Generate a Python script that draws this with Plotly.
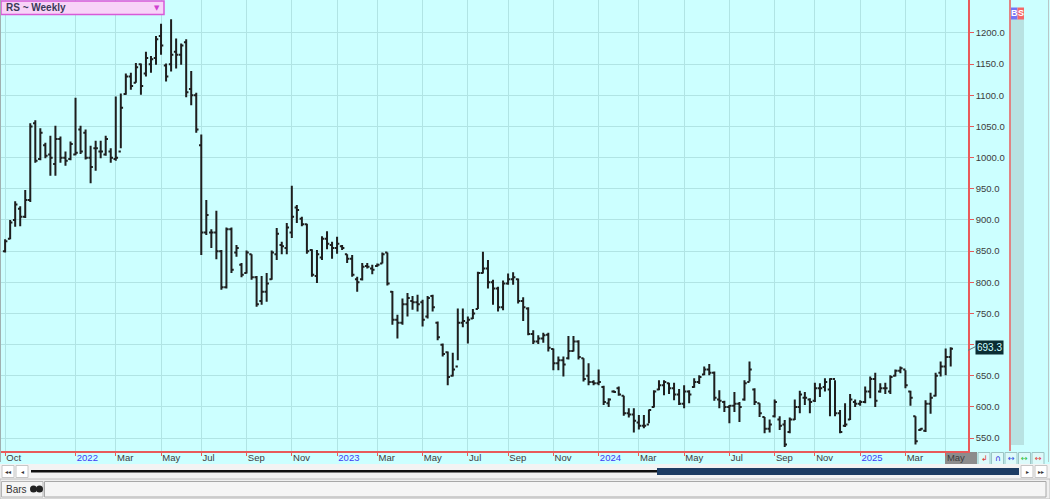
import plotly.graph_objects as go
import pandas as pd

# ---------------- data (weekly bars) ----------------
start_date = "2021-10-01"   # first weekly bar (week ending Friday)

highs = [869, 900, 930, 922, 948, 1055, 1060, 1047,
         1024, 1035, 1051, 1034, 1010, 1026, 1096, 1051, 1045, 1019,
         1027, 1027, 1035, 1015, 1098, 1103, 1135, 1136, 1152, 1151,
         1170, 1163, 1195, 1215, 1151, 1222, 1191, 1183, 1190, 1139,
         1104, 1037, 932, 885, 915, 852, 888, 888, 860, 831,
         851, 845, 810, 810, 815, 851, 887, 865, 895, 955,
         924, 905, 894, 853, 852, 874, 882, 865, 873, 860,
         845, 844, 809, 831, 831, 828, 830, 848, 848, 786,
         748, 774, 783, 778, 780, 772, 778, 780, 737, 702,
         689, 687, 758, 758, 745, 757, 817, 849, 836, 804,
         793, 803, 814, 816, 806, 776, 760, 723, 715, 719,
         719, 694, 681, 681, 714, 714, 707, 678, 670, 643,
         660, 634, 614, 627, 633, 618, 598, 598, 587, 587,
         596, 627, 643, 643, 639, 639, 629, 635, 627, 646,
         651, 665, 669, 657, 627, 610, 603, 624, 608, 643,
         673, 630, 606, 584, 580, 612, 585, 579, 583, 612,
         626, 624, 614, 639, 638, 646, 646, 643, 595, 606,
         621, 612, 611, 633, 649, 655, 638, 639, 651, 660,
         665, 659, 626, 585, 566, 611, 623, 655, 673, 694,
         696]

lows = [848, 869, 889, 890, 903, 929, 992, 996,
        999, 971, 971, 992, 987, 996, 1004, 1006, 997, 959,
        979, 999, 1003, 992, 995, 1015, 1101, 1109, 1120, 1101,
        1130, 1136, 1149, 1165, 1122, 1138, 1143, 1149, 1097, 1084,
        1040, 844, 876, 855, 837, 788, 790, 815, 841, 808,
        814, 804, 761, 764, 769, 804, 836, 845, 845, 871,
        895, 890, 846, 809, 799, 836, 853, 838, 846, 852,
        831, 809, 785, 803, 822, 813, 825, 830, 795, 732,
        710, 732, 745, 756, 753, 729, 742, 753, 707, 681,
        635, 649, 675, 728, 702, 741, 757, 814, 790, 764,
        753, 755, 796, 796, 766, 738, 715, 701, 701, 703,
        689, 659, 659, 649, 676, 689, 676, 641, 635, 635,
        635, 603, 600, 623, 618, 586, 583, 559, 564, 566,
        574, 599, 627, 619, 621, 611, 603, 598, 606, 631,
        637, 651, 651, 610, 598, 592, 574, 592, 576, 610,
        641, 603, 584, 558, 559, 583, 563, 536, 558, 579,
        590, 603, 590, 608, 616, 625, 585, 585, 558, 568,
        579, 600, 602, 606, 614, 600, 623, 621, 621, 649,
        654, 630, 602, 540, 562, 560, 589, 617, 649, 651,
        665]

opens = [850, 870, 900, 918, 905, 932, 1055, 998,
         1020, 1005, 990, 1030, 1000, 998, 1005, 1045, 1040, 1000,
         1015, 1010, 1005, 1010, 998, 1010, 1102, 1130, 1120, 1150,
         1135, 1150, 1160, 1195, 1148, 1150, 1170, 1165, 1185, 1110,
         1100, 1020, 880, 880, 880, 850, 792, 885, 848, 828,
         815, 845, 808, 770, 785, 805, 845, 860, 855, 880,
         920, 902, 893, 852, 810, 840, 870, 860, 855, 858,
         845, 838, 805, 805, 826, 822, 826, 830, 848, 785,
         740, 735, 765, 770, 768, 768, 745, 778, 735, 700,
         688, 650, 665, 735, 735, 742, 757, 815, 822, 800,
         790, 760, 798, 805, 805, 770, 758, 717, 705, 710,
         716, 693, 670, 675, 678, 690, 705, 678, 650, 640,
         638, 632, 606, 625, 630, 618, 590, 588, 575, 570,
         572, 600, 628, 635, 638, 630, 620, 605, 625, 632,
         640, 652, 660, 655, 612, 608, 600, 602, 605, 612,
         640, 628, 606, 584, 565, 585, 580, 572, 560, 580,
         600, 615, 612, 610, 630, 632, 628, 645, 590, 570,
         580, 608, 605, 608, 625, 645, 625, 630, 625, 650,
         658, 660, 625, 585, 563, 562, 605, 618, 655, 665,
         680]

closes = [866, 896, 925, 905, 932, 1050, 995, 1040,
          1003, 1000, 1030, 1000, 995, 1022, 1008, 1010, 1000, 985,
          1015, 1010, 1030, 1000, 1000, 1080, 1130, 1115, 1145, 1115,
          1160, 1158, 1190, 1180, 1130, 1165, 1165, 1180, 1105, 1100,
          1045, 880, 908, 880, 850, 792, 885, 820, 855, 812,
          848, 808, 765, 785, 798, 848, 878, 858, 888, 905,
          916, 893, 850, 812, 845, 870, 862, 855, 862, 855,
          838, 812, 800, 825, 825, 820, 828, 845, 798, 740,
          735, 765, 775, 768, 765, 740, 775, 760, 712, 685,
          648, 660, 735, 738, 740, 750, 815, 822, 800, 790,
          760, 798, 805, 808, 770, 760, 717, 705, 710, 715,
          695, 670, 675, 668, 690, 705, 680, 645, 640, 638,
          640, 608, 612, 624, 620, 590, 588, 578, 570, 570,
          595, 625, 635, 640, 630, 620, 605, 625, 620, 640,
          648, 660, 655, 615, 610, 600, 602, 605, 600, 638,
          660, 608, 590, 565, 572, 608, 570, 540, 580, 600,
          620, 615, 608, 630, 630, 640, 645, 590, 560, 572,
          612, 605, 608, 625, 645, 610, 630, 630, 648, 658,
          662, 635, 615, 545, 565, 605, 615, 650, 665, 680,
          693.3]

# first weekly bar of each labelled month
month_ticks = ["2021-10-01", "2022-01-07", "2022-03-04", "2022-05-06", "2022-07-01",
               "2022-09-02", "2022-11-04", "2023-01-06", "2023-03-03", "2023-05-05",
               "2023-07-07", "2023-09-01", "2023-11-03", "2024-01-05", "2024-03-01",
               "2024-05-03", "2024-07-05", "2024-09-06", "2024-11-01", "2025-01-03",
               "2025-03-07", "2025-05-02"]
month_labels = ["Oct", "2022", "Mar", "May", "Jul", "Sep", "Nov", "2023", "Mar", "May",
                "Jul", "Sep", "Nov", "2024", "Mar", "May", "Jul", "Sep", "Nov", "2025",
                "Mar", "May"]
price_ticks = [550, 600, 650, 700, 750, 800, 850, 900, 950, 1000, 1050, 1100, 1150, 1200]
last_price = 693.3

dates = pd.date_range(start_date, periods=len(highs), freq="7D")

# ---------------- styling helpers ----------------
W, H = 1050, 499
PW, PH = 968, 451          # plot area size in px (margins l=0, t=0)
BG = "#CCFFFF"
GRID = "#B0E4E4"
RED = "#E85A5A"
FONT = "Liberation Sans"


def X(px):
    return px / PW


def Y(py):
    return (PH - py) / PH


def note(px, py, text, size, color, family=FONT, xanchor="center", **kw):
    d = dict(xref="paper", yref="paper", x=X(px), y=Y(py), xanchor=xanchor,
             yanchor="middle", showarrow=False, text=text, borderpad=0,
             font=dict(family=family, size=size, color=color))
    d.update(kw)
    return d


tick_text = [
    f'<span style="color:#3C3CF5">{t}</span>' if t.isdigit() else t
    for t in month_labels
]
# the last-price flag covers the 700.0 label in the reference
price_text = ["" if v == 700 else f"{v:.1f}" for v in price_ticks]

fig = go.Figure()
fig.add_trace(go.Ohlc(
    x=dates, open=opens, high=highs, low=lows, close=closes,
    increasing=dict(line=dict(color="#1E1E1E", width=2)),
    decreasing=dict(line=dict(color="#1E1E1E", width=2)),
    tickwidth=0.45, showlegend=False, hoverinfo="skip",
))

shapes = []
annots = []

# title box
shapes.append(dict(type="rect", xref="paper", yref="paper", x0=X(1), x1=X(164),
                   y0=Y(14.5), y1=Y(1), fillcolor="#F8D3F8",
                   line=dict(color="#D85AD8", width=1.5), layer="above"))
annots.append(note(5, 7.8, "<b>RS ~ Weekly</b>", 10, "#3A3A58", xanchor="left"))
annots.append(note(157, 8, "▼", 7, "#D040D0", family="DejaVu Sans"))

# right side panel
shapes.append(dict(type="line", xref="paper", yref="paper", x0=X(1010), x1=X(1010),
                   y0=Y(451), y1=Y(0), line=dict(color=RED, width=1.5)))
shapes.append(dict(type="rect", xref="paper", yref="paper", x0=X(1011), x1=X(1024),
                   y0=Y(445), y1=Y(19), fillcolor="#B8E2E2", line=dict(width=0)))
shapes.append(dict(type="rect", xref="paper", yref="paper", x0=X(1011), x1=X(1017.5),
                   y0=Y(19.5), y1=Y(7.5), fillcolor="#7474F4", line=dict(width=0)))
shapes.append(dict(type="rect", xref="paper", yref="paper", x0=X(1017.5), x1=X(1024),
                   y0=Y(19.5), y1=Y(7.5), fillcolor="#F46868", line=dict(width=0)))
annots.append(note(1014.3, 13.5, "<b>B</b>", 9, "white"))
annots.append(note(1020.8, 13.5, "<b>S</b>", 9, "white"))
shapes.append(dict(type="line", xref="paper", yref="paper", x0=X(1048.5), x1=X(1048.5),
                   y0=Y(462), y1=Y(0), line=dict(color="#B8C8C8", width=1)))
shapes.append(dict(type="line", xref="paper", yref="paper", x0=X(0.5), x1=X(0.5),
                   y0=Y(462), y1=Y(0), line=dict(color="#A0B0B0", width=1)))

# last price marker
shapes.append(dict(type="line", xref="paper", yref="y", x0=X(968), x1=X(975.5),
                   y0=last_price - 2.5, y1=last_price + 3.5,
                   line=dict(color="#6A7A7A", width=1)))
annots.append(dict(xref="paper", yref="y", x=X(975), y=last_price + 2.5,
                   xanchor="left", yanchor="middle", showarrow=False,
                   text=f"{last_price:.1f}", bgcolor="#0B2D33", borderpad=1,
                   font=dict(family=FONT, size=10, color="#CFFFFF")))

# gray date box under "May"
shapes.append(dict(type="rect", xref="paper", yref="paper", x0=X(945), x1=X(977),
                   y0=Y(466), y1=Y(452), fillcolor="#8C8C8C", line=dict(width=0),
                   layer="below"))

# small buttons on the axis row
btn_x = [978, 991.5, 1005, 1018.5, 1032]
btn_glyph = ["↲", "∩", "↔", "↔", "↔"]
btn_col = ["#E03030", "#2A2AE0", "#3050E0", "#30C040", "#E04040"]
for bx, g, c in zip(btn_x, btn_glyph, btn_col):
    shapes.append(dict(type="rect", xref="paper", yref="paper", x0=X(bx), x1=X(bx + 12),
                       y0=Y(464.5), y1=Y(452.5), fillcolor="#DDFAFA",
                       line=dict(color="#9CC4C4", width=1)))
    annots.append(note(bx + 6, 458.5, g, 8, c, family="DejaVu Sans"))

# scroll row
shapes.append(dict(type="rect", xref="paper", yref="paper", x0=X(0), x1=X(1050),
                   y0=Y(479), y1=Y(464), fillcolor="#F3F3F3", line=dict(width=0)))
for bx in [2, 16, 1021, 1035]:
    shapes.append(dict(type="rect", xref="paper", yref="paper", x0=X(bx), x1=X(bx + 12),
                       y0=Y(477.5), y1=Y(465.5), fillcolor="#FFFFFF",
                       line=dict(color="#C6C6C6", width=1)))
for bx, g in zip([8, 22, 1027, 1041], ["◂◂", "◂", "▸", "▸▸"]):
    annots.append(note(bx, 471.5, g, 6, "#333333", family="DejaVu Sans"))
shapes.append(dict(type="line", xref="paper", yref="paper", x0=X(31), x1=X(657),
                   y0=Y(471.3), y1=Y(471.3), line=dict(color="#111111", width=2.5)))
shapes.append(dict(type="rect", xref="paper", yref="paper", x0=X(657), x1=X(1019),
                   y0=Y(475), y1=Y(468), fillcolor="#1D3C63", line=dict(width=0)))

# bottom status row
shapes.append(dict(type="rect", xref="paper", yref="paper", x0=X(0), x1=X(1050),
                   y0=Y(499), y1=Y(479), fillcolor="#EFEFEF",
                   line=dict(color="#BEBEBE", width=1)))
shapes.append(dict(type="rect", xref="paper", yref="paper", x0=X(1.5), x1=X(43),
                   y0=Y(497), y1=Y(481.5), fillcolor="#F5F5F5",
                   line=dict(color="#B4B4B4", width=1)))
shapes.append(dict(type="rect", xref="paper", yref="paper", x0=X(44.5), x1=X(1046),
                   y0=Y(497), y1=Y(481.5), fillcolor="#F5F5F5",
                   line=dict(color="#A8A8A8", width=1)))
for cx in [33.5, 39.5]:
    shapes.append(dict(type="circle", xref="paper", yref="paper", x0=X(cx - 3.5),
                       x1=X(cx + 3.5), y0=Y(492.5), y1=Y(485.5), fillcolor="#222222",
                       line=dict(width=0)))
annots.append(note(5, 489.5, "Bars", 10, "#333333", xanchor="left"))

fig.update_layout(
    width=W, height=H,
    margin=dict(l=0, r=W - PW, t=0, b=H - PH, pad=0),
    paper_bgcolor=BG, plot_bgcolor=BG,
    shapes=shapes, annotations=annots,
    showlegend=False,
    font=dict(family=FONT, size=10, color="#3C3C3C"),
    xaxis=dict(
        type="date",
        range=["2021-09-23 21:00", "2025-06-02 02:00"],
        rangeslider=dict(visible=False),
        tickvals=month_ticks, ticktext=tick_text,
        ticklabelposition="outside right",
        ticklabelstandoff=-3,
        ticks="outside", ticklen=3, tickcolor=RED, tickwidth=1,
        showline=True, linecolor=RED, linewidth=1.5,
        showgrid=True, gridcolor=GRID, gridwidth=1,
        zeroline=False,
        tickfont=dict(family=FONT, size=9.5, color="#3C3C3C"),
        fixedrange=True,
    ),
    yaxis=dict(
        side="right",
        range=[529.4, 1252.9],
        tickvals=price_ticks, ticktext=price_text,
        ticks="outside", ticklen=4, tickcolor=RED, tickwidth=1,
        showline=True, linecolor=RED, linewidth=1.5,
        showgrid=True, gridcolor=GRID, gridwidth=1,
        zeroline=False,
        tickfont=dict(family=FONT, size=9.5, color="#3C3C3C"),
        fixedrange=True,
    ),
)

fig.write_html("out.html", config={"displayModeBar": False},
               post_script="document.body.style.margin='0';")
